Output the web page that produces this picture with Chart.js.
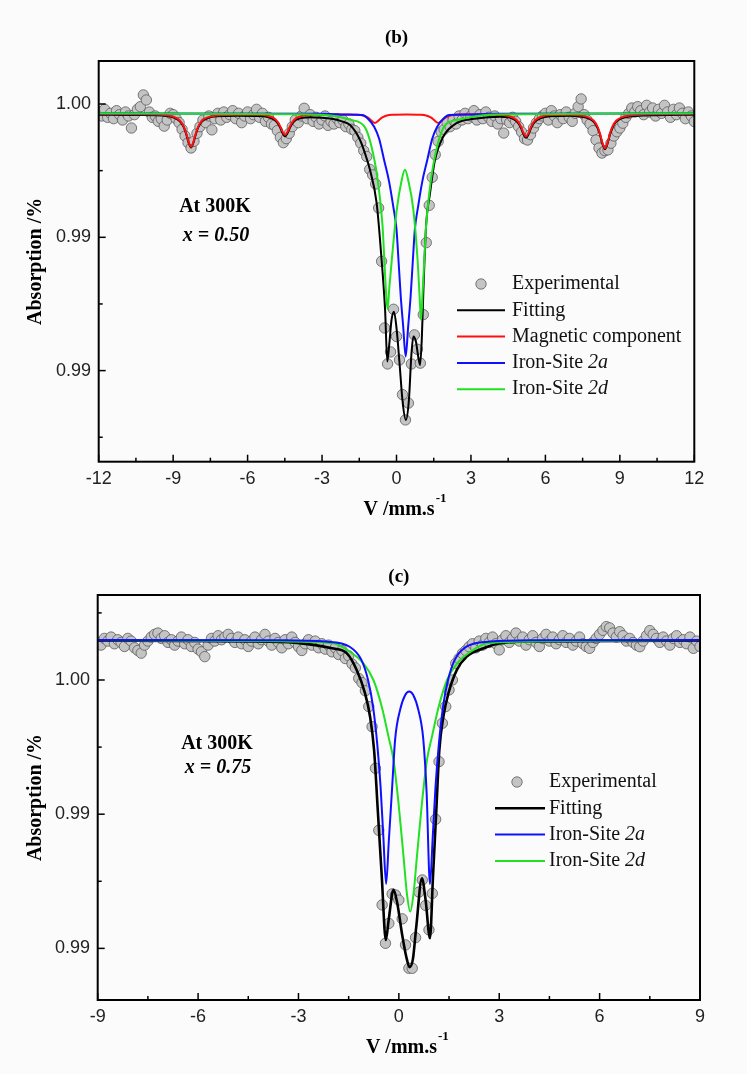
<!DOCTYPE html>
<html>
<head>
<meta charset="utf-8">
<title>Mössbauer spectra at 300K</title>
<script src="https://cdn.jsdelivr.net/npm/chart.js@4.4.1/dist/chart.umd.min.js"></script>
<style>
  html, body { margin: 0; padding: 0; background: #fbfbfb; }
  #wrap { position: relative; width: 747px; height: 1074px; }
  canvas { position: absolute; left: 0; }
  #chartB { top: 0; }
  #chartC { top: 540px; }
</style>
</head>
<body>
<div id="wrap">
  <canvas id="chartB" width="747" height="540"></canvas>
  <canvas id="chartC" width="747" height="534"></canvas>
</div>
<script>
/* ---------- (b) x = 0.50 ---------- */
const velB = [
  -12, -11.88, -11.76, -11.64, -11.52, -11.4, -11.28, -11.16, -11.04, -10.92,
  -10.8, -10.68, -10.56, -10.44, -10.32, -10.2, -10.08, -9.96, -9.84, -9.72,
  -9.6, -9.48, -9.36, -9.24, -9.12, -9, -8.88, -8.76, -8.64, -8.52,
  -8.4, -8.28, -8.16, -8.04, -7.92, -7.8, -7.68, -7.56, -7.44, -7.32,
  -7.2, -7.08, -6.96, -6.84, -6.72, -6.6, -6.48, -6.36, -6.24, -6.12,
  -6, -5.88, -5.76, -5.64, -5.52, -5.4, -5.28, -5.16, -5.04, -4.92,
  -4.8, -4.68, -4.56, -4.44, -4.32, -4.2, -4.08, -3.96, -3.84, -3.72,
  -3.6, -3.48, -3.36, -3.24, -3.12, -3, -2.88, -2.76, -2.64, -2.52,
  -2.4, -2.28, -2.16, -2.04, -1.92, -1.8, -1.68, -1.56, -1.44, -1.32,
  -1.2, -1.08, -0.96, -0.84, -0.72, -0.6, -0.48, -0.36, -0.24, -0.12,
  0, 0.12, 0.24, 0.36, 0.48, 0.6, 0.72, 0.84, 0.96, 1.08,
  1.2, 1.32, 1.44, 1.56, 1.68, 1.8, 1.92, 2.04, 2.16, 2.28,
  2.4, 2.52, 2.64, 2.76, 2.88, 3, 3.12, 3.24, 3.36, 3.48,
  3.6, 3.72, 3.84, 3.96, 4.08, 4.2, 4.32, 4.44, 4.56, 4.68,
  4.8, 4.92, 5.04, 5.16, 5.28, 5.4, 5.52, 5.64, 5.76, 5.88,
  6, 6.12, 6.24, 6.36, 6.48, 6.6, 6.72, 6.84, 6.96, 7.08,
  7.2, 7.32, 7.44, 7.56, 7.68, 7.8, 7.92, 8.04, 8.16, 8.28,
  8.4, 8.52, 8.64, 8.76, 8.88, 9, 9.12, 9.24, 9.36, 9.48,
  9.6, 9.72, 9.84, 9.96, 10.08, 10.2, 10.32, 10.44, 10.56, 10.68,
  10.8, 10.92, 11.04, 11.16, 11.28, 11.4, 11.52, 11.64, 11.76, 11.88,
  12
];
const expB = [
  0.99970, 0.99955, 0.99980, 0.99950, 0.99965, 0.99945, 0.99975, 0.99960, 0.99940, 0.99970,
  0.99955, 0.99910, 0.99960, 0.99980, 0.99990, 1.00034, 1.00015, 0.99970, 0.99950, 0.99955,
  0.99935, 0.99945, 0.99917, 0.99940, 0.99965, 0.99960, 0.99945, 0.99930, 0.99905, 0.99880,
  0.99855, 0.99835, 0.99860, 0.99890, 0.99915, 0.99940, 0.99930, 0.99955, 0.99903, 0.99945,
  0.99965, 0.99940, 0.99970, 0.99950, 0.99960, 0.99975, 0.99945, 0.99965, 0.99930, 0.99955,
  0.99970, 0.99945, 0.99960, 0.99980, 0.99950, 0.99965, 0.99935, 0.99950, 0.99925, 0.99920,
  0.99900, 0.99875, 0.99855, 0.99870, 0.99890, 0.99915, 0.99940, 0.99930, 0.99955, 0.99984,
  0.99945, 0.99960, 0.99935, 0.99950, 0.99925, 0.99940, 0.99955, 0.99920, 0.99935, 0.99925,
  0.99945, 0.99930, 0.99940, 0.99915, 0.99925, 0.99905, 0.99900, 0.99875, 0.99853, 0.99825,
  0.99803, 0.99755, 0.99734, 0.99700, 0.99610, 0.99410, 0.99160, 0.99025, 0.99070, 0.99230,
  0.99128, 0.99040, 0.98910, 0.98815, 0.98878, 0.99025, 0.99134, 0.99080, 0.99028, 0.99210,
  0.99480, 0.99620, 0.99725, 0.99810, 0.99860, 0.99895, 0.99905, 0.99930, 0.99915, 0.99940,
  0.99925, 0.99955, 0.99940, 0.99965, 0.99945, 0.99955, 0.99975, 0.99940, 0.99960, 0.99945,
  0.99970, 0.99950, 0.99935, 0.99955, 0.99925, 0.99945, 0.99891, 0.99940, 0.99930, 0.99950,
  0.99935, 0.99915, 0.99895, 0.99870, 0.99865, 0.99885, 0.99910, 0.99930, 0.99945, 0.99955,
  0.99965, 0.99940, 0.99975, 0.99955, 0.99930, 0.99960, 0.99945, 0.99970, 0.99950, 0.99935,
  0.99965, 0.99990, 1.00019, 0.99960, 0.99940, 0.99925, 0.99900, 0.99865, 0.99835, 0.99816,
  0.99825, 0.99828, 0.99853, 0.99880, 0.99896, 0.99910, 0.99928, 0.99950, 0.99965, 0.99985,
  0.99970, 0.99990, 0.99975, 0.99960, 0.99995, 0.99970, 0.99985, 0.99955, 0.99980, 0.99965,
  0.99995, 0.99970, 0.99950, 0.99980, 0.99960, 0.99985, 0.99965, 0.99945, 0.99970, 0.99955,
  0.99934
];
// fitted curves, [velocity, absorption]
const fitB = [
  [-12, 0.99960], [-10.5, 0.99959], [-9.28, 0.99955], [-8.98, 0.99949], [-8.73, 0.99935],
  [-8.58, 0.99914], [-8.48, 0.99889], [-8.38, 0.99856], [-8.28, 0.99837], [-8.18, 0.99856],
  [-8.08, 0.99889], [-7.98, 0.99914], [-7.83, 0.99935], [-7.58, 0.99948], [-7.28, 0.99954],
  [-6.4, 0.99956], [-5.49, 0.99955], [-5.19, 0.99951], [-4.94, 0.99942], [-4.79, 0.99928],
  [-4.69, 0.99912], [-4.59, 0.99891], [-4.49, 0.99879], [-4.39, 0.99891], [-4.29, 0.99912],
  [-4.19, 0.99928], [-4.04, 0.99941], [-3.79, 0.99948], [-3.49, 0.99950], [-3.0, 0.99948],
  [-2.55, 0.99944], [-2.2, 0.99935], [-1.87, 0.99921], [-1.47, 0.99865], [-1.27, 0.99815],
  [-1.07, 0.99753], [-0.8, 0.99628], [-0.6, 0.99415], [-0.46, 0.99228], [-0.37, 0.99034],
  [-0.29, 0.99100], [-0.2, 0.99190], [-0.1, 0.99221], [0, 0.99160], [0.12, 0.99030],
  [0.25, 0.98880], [0.38, 0.98815], [0.5, 0.98890], [0.6, 0.99060], [0.68, 0.99128],
  [0.78, 0.99110], [0.88, 0.99050], [0.95, 0.99021], [1.02, 0.99120], [1.08, 0.99290],
  [1.19, 0.99540], [1.35, 0.99665], [1.55, 0.99790], [1.88, 0.99877], [2.42, 0.99928],
  [3.23, 0.99946], [4.17, 0.99952], [4.52, 0.99950], [4.77, 0.99940], [4.92, 0.99926],
  [5.02, 0.99909], [5.12, 0.99886], [5.22, 0.99873], [5.32, 0.99886], [5.42, 0.99909],
  [5.52, 0.99926], [5.67, 0.99940], [5.92, 0.99950], [6.22, 0.99954], [7.0, 0.99956],
  [7.4, 0.99953], [7.7, 0.99947], [7.95, 0.99933], [8.1, 0.99911], [8.2, 0.99885],
  [8.3, 0.99850], [8.4, 0.99830], [8.5, 0.99850], [8.6, 0.99885], [8.7, 0.99911],
  [8.85, 0.99933], [9.1, 0.99947], [9.4, 0.99953], [10.5, 0.99958], [12, 0.99960]
];
const magB = [
  [-12, 0.99963], [-10.5, 0.99962], [-9.28, 0.99958], [-8.98, 0.99952], [-8.73, 0.99938],
  [-8.58, 0.99917], [-8.48, 0.99892], [-8.38, 0.99859], [-8.28, 0.99840], [-8.18, 0.99859],
  [-8.08, 0.99892], [-7.98, 0.99917], [-7.83, 0.99938], [-7.58, 0.99951], [-7.28, 0.99957],
  [-6.4, 0.99960], [-5.49, 0.99960], [-5.19, 0.99956], [-4.94, 0.99947], [-4.79, 0.99933],
  [-4.69, 0.99917], [-4.59, 0.99896], [-4.49, 0.99884], [-4.39, 0.99896], [-4.29, 0.99917],
  [-4.19, 0.99933], [-4.04, 0.99947], [-3.79, 0.99956], [-3.49, 0.99960], [-2.7, 0.99961],
  [-1.57, 0.99960], [-1.32, 0.99956], [-1.17, 0.99950], [-1.07, 0.99943], [-0.97, 0.99934],
  [-0.87, 0.99929], [-0.77, 0.99934], [-0.67, 0.99943], [-0.57, 0.99950], [-0.42, 0.99956],
  [-0.17, 0.99960], [0.4, 0.99961], [0.98, 0.99960], [1.23, 0.99956], [1.38, 0.99950],
  [1.48, 0.99943], [1.58, 0.99934], [1.68, 0.99929], [1.78, 0.99934], [1.88, 0.99943],
  [1.98, 0.99950], [2.13, 0.99956], [2.38, 0.99960], [3.4, 0.99962], [4.22, 0.99959],
  [4.52, 0.99955], [4.77, 0.99945], [4.92, 0.99931], [5.02, 0.99914], [5.12, 0.99891],
  [5.22, 0.99878], [5.32, 0.99891], [5.42, 0.99914], [5.52, 0.99931], [5.67, 0.99945],
  [5.92, 0.99955], [6.22, 0.99959], [7.0, 0.99960], [7.4, 0.99957], [7.7, 0.99951],
  [7.95, 0.99937], [8.1, 0.99915], [8.2, 0.99889], [8.3, 0.99854], [8.4, 0.99834],
  [8.5, 0.99854], [8.6, 0.99889], [8.7, 0.99915], [8.85, 0.99937], [9.1, 0.99951],
  [9.4, 0.99957], [10.5, 0.99962], [12, 0.99963]
];
const site2aB = [
  [-12, 0.99965], [-3, 0.99963], [-2.03, 0.99961], [-1.38, 0.99959], [-1.15, 0.99945],
  [-0.9, 0.99915], [-0.7, 0.99870], [-0.5, 0.99790], [-0.3, 0.99710], [-0.13, 0.99615],
  [0, 0.99530], [0.08, 0.99415], [0.17, 0.99280], [0.27, 0.99165], [0.37, 0.99053],
  [0.47, 0.99165], [0.57, 0.99280], [0.66, 0.99415], [0.74, 0.99530], [0.87, 0.99615],
  [1.04, 0.99710], [1.24, 0.99790], [1.44, 0.99870], [1.64, 0.99915], [1.89, 0.99945],
  [2.12, 0.99959], [2.77, 0.99961], [4, 0.99963], [12, 0.99965]
];
const site2dB = [
  [-12, 0.99965], [-4, 0.99962], [-2.5, 0.99955], [-1.83, 0.99940], [-1.29, 0.99915],
  [-0.89, 0.99790], [-0.69, 0.99665], [-0.56, 0.99540], [-0.49, 0.99415], [-0.42, 0.99290],
  [-0.36, 0.99230], [-0.29, 0.99310], [-0.19, 0.99415], [0.01, 0.99603], [0.21, 0.99715],
  [0.34, 0.99753], [0.47, 0.99715], [0.68, 0.99603], [0.85, 0.99415], [0.93, 0.99280],
  [0.99, 0.99190], [1.05, 0.99290], [1.12, 0.99415], [1.19, 0.99540], [1.32, 0.99665],
  [1.52, 0.99790], [1.92, 0.99915], [2.46, 0.99940], [3.5, 0.99958], [5, 0.99962],
  [12, 0.99965]
];

/* ---------- (c) x = 0.75 ---------- */
const velC = [
  -9, -8.9, -8.8, -8.7, -8.6, -8.5, -8.4, -8.3, -8.2, -8.1,
  -8, -7.9, -7.8, -7.7, -7.6, -7.5, -7.4, -7.3, -7.2, -7.1,
  -7, -6.9, -6.8, -6.7, -6.6, -6.5, -6.4, -6.3, -6.2, -6.1,
  -6, -5.9, -5.8, -5.7, -5.6, -5.5, -5.4, -5.3, -5.2, -5.1,
  -5, -4.9, -4.8, -4.7, -4.6, -4.5, -4.4, -4.3, -4.2, -4.1,
  -4, -3.9, -3.8, -3.7, -3.6, -3.5, -3.4, -3.3, -3.2, -3.1,
  -3, -2.9, -2.8, -2.7, -2.6, -2.5, -2.4, -2.3, -2.2, -2.1,
  -2, -1.9, -1.8, -1.7, -1.6, -1.5, -1.4, -1.3, -1.2, -1.1,
  -1, -0.9, -0.8, -0.7, -0.6, -0.5, -0.4, -0.3, -0.2, -0.1,
  0, 0.1, 0.2, 0.3, 0.4, 0.5, 0.6, 0.7, 0.8, 0.9,
  1, 1.1, 1.2, 1.3, 1.4, 1.5, 1.6, 1.7, 1.8, 1.9,
  2, 2.1, 2.2, 2.3, 2.4, 2.5, 2.6, 2.7, 2.8, 2.9,
  3, 3.1, 3.2, 3.3, 3.4, 3.5, 3.6, 3.7, 3.8, 3.9,
  4, 4.1, 4.2, 4.3, 4.4, 4.5, 4.6, 4.7, 4.8, 4.9,
  5, 5.1, 5.2, 5.3, 5.4, 5.5, 5.6, 5.7, 5.8, 5.9,
  6, 6.1, 6.2, 6.3, 6.4, 6.5, 6.6, 6.7, 6.8, 6.9,
  7, 7.1, 7.2, 7.3, 7.4, 7.5, 7.6, 7.7, 7.8, 7.9,
  8, 8.1, 8.2, 8.3, 8.4, 8.5, 8.6, 8.7, 8.8, 8.9,
  9
];
const expC = [
  1.00140, 1.00130, 1.00155, 1.00145, 1.00160, 1.00135, 1.00150, 1.00140, 1.00125, 1.00155,
  1.00145, 1.00120, 1.00110, 1.00100, 1.00130, 1.00145, 1.00160, 1.00170, 1.00175, 1.00155,
  1.00165, 1.00140, 1.00150, 1.00130, 1.00145, 1.00160, 1.00135, 1.00150, 1.00125, 1.00140,
  1.00115, 1.00105, 1.00087, 1.00130, 1.00155, 1.00145, 1.00165, 1.00150, 1.00160, 1.00170,
  1.00155, 1.00140, 1.00160, 1.00135, 1.00150, 1.00125, 1.00145, 1.00160, 1.00135, 1.00150,
  1.00170, 1.00145, 1.00130, 1.00155, 1.00140, 1.00120, 1.00150, 1.00135, 1.00160, 1.00140,
  1.00124, 1.00110, 1.00135, 1.00150, 1.00130, 1.00145, 1.00120, 1.00135, 1.00115, 1.00130,
  1.00105, 1.00120, 1.00095, 1.00110, 1.00080, 1.00090, 1.00060, 1.00045, 1.00006, 0.99990,
  0.99960, 0.99901, 0.99826, 0.99671, 0.99440, 0.99162, 0.99019, 0.99093, 0.99203, 0.99199,
  0.99180, 0.99110, 0.99013, 0.98926, 0.98926, 0.99040, 0.99210, 0.99255, 0.99160, 0.99069,
  0.99205, 0.99481, 0.99696, 0.99839, 0.99901, 0.99963, 1.00000, 1.00062, 1.00080, 1.00099,
  1.00110, 1.00124, 1.00135, 1.00120, 1.00145, 1.00130, 1.00155, 1.00140, 1.00160, 1.00135,
  1.00112, 1.00150, 1.00165, 1.00140, 1.00155, 1.00175, 1.00145, 1.00160, 1.00130, 1.00150,
  1.00165, 1.00140, 1.00125, 1.00155, 1.00170, 1.00145, 1.00160, 1.00135, 1.00150, 1.00165,
  1.00140, 1.00155, 1.00130, 1.00145, 1.00160, 1.00135, 1.00125, 1.00118, 1.00140, 1.00155,
  1.00170, 1.00185, 1.00199, 1.00194, 1.00175, 1.00160, 1.00180, 1.00165, 1.00145, 1.00155,
  1.00140, 1.00130, 1.00124, 1.00145, 1.00165, 1.00184, 1.00170, 1.00155, 1.00140, 1.00160,
  1.00145, 1.00130, 1.00155, 1.00165, 1.00140, 1.00150, 1.00135, 1.00160, 1.00118, 1.00145,
  1.00125
];
const fitC = [
  [-9, 1.00147], [-3.5, 1.00142], [-2.5, 1.00130], [-2.0, 1.00118], [-1.56, 1.00100],
  [-1.26, 1.00037], [-1.01, 0.99950], [-0.86, 0.99863], [-0.74, 0.99739], [-0.63, 0.99516],
  [-0.51, 0.99267], [-0.39, 0.99031], [-0.3, 0.99110], [-0.16, 0.99218], [-0.05, 0.99170],
  [0.1, 0.99050], [0.22, 0.98970], [0.32, 0.98930], [0.42, 0.98960], [0.52, 0.99080],
  [0.69, 0.99261], [0.8, 0.99180], [0.93, 0.99038], [1.02, 0.99267], [1.12, 0.99516],
  [1.21, 0.99739], [1.33, 0.99863], [1.48, 0.99950], [1.73, 1.00037], [2.03, 1.00087],
  [2.53, 1.00118], [3.03, 1.00137], [4.0, 1.00144], [9, 1.00147]
];
const site2aC = [
  [-9, 1.00149], [-3.5, 1.00148], [-2.18, 1.00143], [-1.47, 1.00124], [-1.12, 1.00075],
  [-0.92, 1.00000], [-0.77, 0.99900], [-0.645, 0.99760], [-0.545, 0.99600], [-0.465, 0.99420],
  [-0.38, 0.99240], [-0.3, 0.99400], [-0.21, 0.99580], [-0.11, 0.99780], [0.04, 0.99890],
  [0.19, 0.99944], [0.31, 0.99957], [0.43, 0.99944], [0.58, 0.99890], [0.73, 0.99780],
  [0.83, 0.99580], [0.93, 0.99240], [1.015, 0.99420], [1.095, 0.99600], [1.195, 0.99760],
  [1.32, 0.99900], [1.47, 1.00000], [1.67, 1.00075], [2.02, 1.00124], [2.73, 1.00143],
  [4.0, 1.00148], [9, 1.00149]
];
const site2dC = [
  [-9, 1.00149], [-3.5, 1.00144], [-1.96, 1.00137], [-1.46, 1.00105], [-1.06, 1.00062],
  [-0.76, 1.00000], [-0.51, 0.99900], [-0.31, 0.99789], [-0.16, 0.99702], [-0.01, 0.99541],
  [0.14, 0.99342], [0.24, 0.99205], [0.34, 0.99137], [0.44, 0.99205], [0.54, 0.99342],
  [0.69, 0.99541], [0.84, 0.99702], [0.99, 0.99789], [1.19, 0.99900], [1.44, 1.00000],
  [1.74, 1.00062], [2.14, 1.00105], [2.64, 1.00137], [4.2, 1.00144], [9, 1.00149]
];

/* ---------- axes ---------- */
const yTicks = [0.990, 0.995, 1.000];
const yTickLabels = ['0.99', '0.99', '1.00'];
const xTicksB = [-12, -9, -6, -3, 0, 3, 6, 9, 12];
const xTicksC = [-9, -6, -3, 0, 3, 6, 9];

const SERIF = "'Liberation Serif', 'Times New Roman', serif";
const SANS = "'Liberation Sans', Arial, sans-serif";
const RED = '#ff1010', BLUE = '#1010ff', GREEN = '#22e022';

const toXY = arr => arr.map(p => ({ x: p[0], y: p[1] }));
const zip = (xs, ys) => xs.map((x, i) => ({ x: x, y: ys[i] }));

function lineSet(label, data, color, width, order) {
  return {
    label: label, data: toXY(data), showLine: true,
    borderColor: color, backgroundColor: color, borderWidth: width,
    pointRadius: 0, cubicInterpolationMode: 'monotone', order: order, clip: 2
  };
}

// frame, inward ticks, notes, legend and x title
function decor(cfg) {
  return {
    id: 'decor',
    afterDraw(chart) {
      const ctx = chart.ctx;
      const a = chart.chartArea;
      const xs = chart.scales.x, ys = chart.scales.y;
      const seg = (x1, y1, x2, y2) => { ctx.beginPath(); ctx.moveTo(x1, y1); ctx.lineTo(x2, y2); ctx.stroke(); };
      ctx.save();

      ctx.strokeStyle = '#000';
      ctx.lineWidth = 1.5;
      cfg.xMajor.forEach(v => { const p = xs.getPixelForValue(v); seg(p, a.bottom, p, a.bottom - 7); });
      cfg.xMinor.forEach(v => { const p = xs.getPixelForValue(v); seg(p, a.bottom, p, a.bottom - 4); });
      yTicks.forEach(v => { const p = ys.getPixelForValue(v); seg(a.left, p, a.left + 7, p); });
      cfg.yMinor.forEach(v => { const p = ys.getPixelForValue(v); seg(a.left, p, a.left + 4, p); });

      ctx.lineWidth = 2;
      ctx.strokeRect(a.left, a.top, a.right - a.left, a.bottom - a.top);

      // sample notes
      ctx.fillStyle = '#000';
      ctx.textAlign = 'center';
      ctx.textBaseline = 'middle';
      ctx.font = 'bold 20px ' + SERIF;
      ctx.fillText('At 300K', cfg.noteX, cfg.noteY);
      ctx.font = 'italic bold 20px ' + SERIF;
      ctx.fillText(cfg.noteX2, cfg.noteX + 1, cfg.noteY + cfg.noteGap);

      // legend
      ctx.textAlign = 'left';
      cfg.legend.forEach((item, i) => {
        const yy = cfg.legTop + i * cfg.legStep;
        const ds = chart.data.datasets[item.ds];
        if (ds.showLine) {
          ctx.strokeStyle = ds.borderColor;
          ctx.lineWidth = ds.borderWidth;
          seg(cfg.legX1, yy, cfg.legX2, yy);
        } else {
          ctx.beginPath();
          ctx.arc(cfg.legMarker, yy, ds.pointRadius, 0, Math.PI * 2);
          ctx.fillStyle = ds.pointBackgroundColor;
          ctx.fill();
          ctx.lineWidth = ds.pointBorderWidth;
          ctx.strokeStyle = ds.pointBorderColor;
          ctx.stroke();
        }
        ctx.fillStyle = '#111';
        ctx.font = '20px ' + SERIF;
        ctx.fillText(item.text[0], cfg.legText, yy);
        if (item.text[1]) {
          const w = ctx.measureText(item.text[0]).width;
          ctx.font = 'italic 20px ' + SERIF;
          ctx.fillText(item.text[1], cfg.legText + w, yy);
        }
      });

      // x axis title with superscript
      ctx.fillStyle = '#000';
      ctx.font = 'bold 20px ' + SERIF;
      const main = 'V /mm.s';
      const mw = ctx.measureText(main).width;
      ctx.font = 'bold 13px ' + SERIF;
      const sw = ctx.measureText('-1').width;
      const sx = (a.left + a.right) / 2 + 8 - (mw + sw) / 2;
      ctx.font = 'bold 20px ' + SERIF;
      ctx.fillText(main, sx, cfg.xTitleY);
      ctx.font = 'bold 13px ' + SERIF;
      ctx.fillText('-1', sx + mw + 1, cfg.xTitleY - 11);

      ctx.restore();
    }
  };
}

function buildChart(id, cfg) {
  // cfg.order decides which component line lies on top
  const datasets = [
    lineSet('Iron-Site 2d', cfg.site2d, GREEN, 2, cfg.order.d),
    lineSet('Iron-Site 2a', cfg.site2a, BLUE, 2, cfg.order.a)
  ];
  if (cfg.mag) datasets.push(lineSet('Magnetic component', cfg.mag, RED, 2, 2));
  datasets.push(lineSet('Fitting', cfg.fit, '#000', cfg.fitWidth, 3));
  datasets.push({
    label: 'Experimental', data: zip(cfg.vel, cfg.exp), showLine: false,
    pointRadius: 5.2, pointBackgroundColor: '#c4c4c4', pointBorderColor: '#5a5a5a',
    pointBorderWidth: 0.8, order: 4, clip: 0
  });

  return new Chart(document.getElementById(id), {
    type: 'scatter',
    data: { datasets: datasets },
    options: {
      responsive: false,
      animation: false,
      devicePixelRatio: 1,
      layout: { padding: { top: 0, right: cfg.padRight, bottom: 0, left: 0 } },
      plugins: {
        legend: { display: false },
        tooltip: { enabled: false },
        title: {
          display: true, text: cfg.title, fullSize: false, color: '#000',
          font: { family: SERIF, size: 19, weight: 'bold' },
          padding: { top: cfg.titleTop, bottom: cfg.titleBottom }
        }
      },
      scales: {
        x: {
          type: 'linear', min: cfg.xMin, max: cfg.xMax,
          grid: { display: false, drawTicks: false },
          border: { display: false },
          afterBuildTicks: s => { s.ticks = cfg.xMajor.map(v => ({ value: v })); },
          afterFit: s => { s.height = cfg.xAxisHeight; },
          ticks: {
            autoSkip: false, maxRotation: 0, padding: 6.3, color: '#222',
            font: { family: SANS, size: 18 },
            callback: v => String(v)
          }
        },
        y: {
          type: 'linear', min: cfg.yMin, max: cfg.yMax,
          grid: { display: false, drawTicks: false },
          border: { display: false },
          afterBuildTicks: s => { s.ticks = yTicks.map(v => ({ value: v })); },
          afterFit: s => { s.width = cfg.yAxisWidth; },
          ticks: {
            autoSkip: false, padding: 7.7, color: '#222',
            font: { family: SANS, size: 18 },
            callback: (v, i) => yTickLabels[i]
          },
          title: {
            display: true, text: 'Absorption /%', color: '#000',
            font: { family: SERIF, size: 20, weight: 'bold' },
            padding: { top: 24, bottom: 0 }
          }
        }
      }
    },
    plugins: [decor(cfg)]
  });
}

buildChart('chartB', {
  title: '(b)', titleTop: 26.6, titleBottom: 11.6,
  vel: velB, exp: expB, fit: fitB, mag: magB, site2a: site2aB, site2d: site2dB, fitWidth: 2,
  order: { d: 0, a: 1 },
  xMin: -12, xMax: 12, yMin: 0.986583, yMax: 1.001613,
  xMajor: xTicksB, xMinor: [-10.5, -7.5, -4.5, -1.5, 1.5, 4.5, 7.5, 10.5],
  yMinor: [0.9875, 0.9925, 0.9975],
  padRight: 52.7, yAxisWidth: 98.7, xAxisHeight: 78.3,
  noteX: 215, noteY: 207, noteGap: 29, noteX2: 'x = 0.50',
  legend: [
    { ds: 4, text: ['Experimental'] },
    { ds: 3, text: ['Fitting'] },
    { ds: 2, text: ['Magnetic component'] },
    { ds: 1, text: ['Iron-Site ', '2a'] },
    { ds: 0, text: ['Iron-Site ', '2d'] }
  ],
  legTop: 284, legStep: 26.3, legX1: 457, legX2: 505, legMarker: 481, legText: 512,
  xTitleY: 510
});

buildChart('chartC', {
  title: '(c)', titleTop: 25.6, titleBottom: 6.6,
  vel: velC, exp: expC, fit: fitC, mag: null, site2a: site2aC, site2d: site2dC, fitWidth: 2.6,
  order: { d: 1, a: 0 },
  xMin: -9, xMax: 9, yMin: 0.988077, yMax: 1.003167,
  xMajor: xTicksC, xMinor: [-7.5, -4.5, -1.5, 1.5, 4.5, 7.5],
  yMinor: [0.9925, 0.9975, 1.0025],
  padRight: 47, yAxisWidth: 97.7, xAxisHeight: 74,
  noteX: 217, noteY: 204, noteGap: 24, noteX2: 'x = 0.75',
  legend: [
    { ds: 3, text: ['Experimental'] },
    { ds: 2, text: ['Fitting'] },
    { ds: 1, text: ['Iron-Site ', '2a'] },
    { ds: 0, text: ['Iron-Site ', '2d'] }
  ],
  legTop: 242, legStep: 26.3, legX1: 495, legX2: 545, legMarker: 517, legText: 549,
  xTitleY: 508
});
</script>
</body>
</html>
